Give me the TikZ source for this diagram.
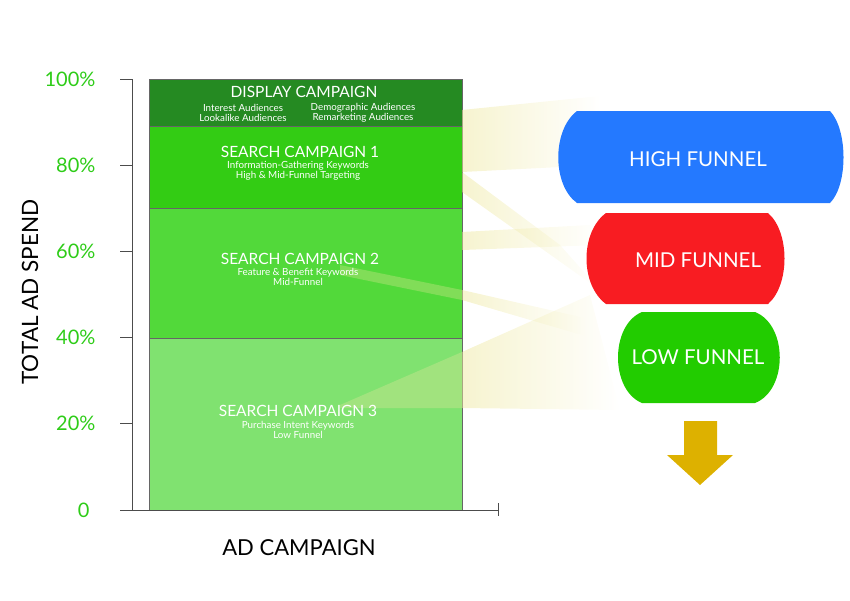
\documentclass[tikz,border=0pt]{standalone}
\usepackage{fontspec}
\setmainfont{Lato}
\usetikzlibrary{fadings}
\definecolor{gD}{HTML}{258A22}
\definecolor{g1}{HTML}{33CC14}
\definecolor{g2}{HTML}{52D93A}
\definecolor{g3}{HTML}{80E270}
\definecolor{gl}{HTML}{2ECC18}
\definecolor{hb}{HTML}{2479FF}
\definecolor{mr}{HTML}{F81C22}
\definecolor{lg}{HTML}{22CC00}
\definecolor{ar}{HTML}{DDB100}
\definecolor{beam}{HTML}{EEE8A0}
\tikzset{
 bar/.style={draw=black!60,line width=0.6pt},
 pct/.style={text=gl,font=\fontsize{20}{20}\selectfont,anchor=east},
 ttl/.style={text=white,font=\fontsize{15.5}{15.5}\selectfont},
 sub/.style={text=white,font=\fontsize{9.8}{10}\selectfont,align=center},
 fun/.style={text=white,font=\fontsize{20.5}{20.5}\selectfont},
 bm/.style={fill=beam,fill opacity=0.5,path fading=east},
 bmw/.style={fill=beam,fill opacity=0.3},
}
\begin{document}
\begin{tikzpicture}[x=1pt,y=-1pt]
\useasboundingbox (0,0) rectangle (850,600);
% bars
\fill[g3] (149,338) rectangle (462,510);
\fill[g2] (149,208) rectangle (462,338);
\fill[g1] (149,126) rectangle (462,208);
\fill[gD] (149,79) rectangle (462,126);
% beams over bars
\fill[bmw] (340,265) -- (462,290) -- (462,300) -- (340,275) -- cycle;
\fill[bmw] (340,405) -- (462,352) -- (462,408) -- (340,408) -- cycle;
\draw[bar] (149,79) rectangle (462,510);
\draw[bar] (149,126) -- (462,126) (149,208) -- (462,208) (149,338) -- (462,338);
% beams
\fill[bm] (462,110) -- (600,96) -- (600,165) -- (462,172) -- cycle;
\fill[bm] (462,172) -- (560,245) -- (600,290) -- (462,192) -- cycle;
\fill[bm] (462,290) -- (585,318) -- (585,336) -- (462,300) -- cycle;
\fill[bm] (462,352) -- (590,295) -- (620,410) -- (462,408) -- cycle;
\fill[bm] (462,232) -- (590,225) -- (600,245) -- (462,250) -- cycle;
% axes
\draw[black!70,line width=0.8pt] (132,79) -- (132,510) -- (498,510);
\foreach \y in {79,165.2,251.4,337.6,423.8,510} \draw[black!70,line width=0.8pt] (120,\y) -- (132,\y);
\draw[black!70,line width=0.8pt] (498,503) -- (498,516);
\node[pct] (p100) at (99,79) {100\%};
\node[pct] (p80) at (99,165.2) {80\%};
\node[pct] (p60) at (99,251.4) {60\%};
\node[pct] (p40) at (99,337.6) {40\%};
\node[pct] (p20) at (99,423.8) {20\%};
\node[pct] (p0) at (93,510) {0};
\node[rotate=90,font=\fontsize{22.5}{22.5}\selectfont] (ylab) at (30,292) {TOTAL AD SPEND};
\node[font=\fontsize{22}{22}\selectfont] (xlab) at (299,548) {AD CAMPAIGN};
% bar texts
\node[ttl] (dc) at (304,92) {DISPLAY CAMPAIGN};
\node[sub] (d1) at (243,113) {Interest Audiences\\Lookalike Audiences};
\node[sub] (d2) at (363,113) {Demographic Audiences\\Remarketing Audiences};
\node[ttl] (s1) at (300,152) {SEARCH CAMPAIGN 1};
\node[sub] (s1s) at (298,171) {Information-Gathering Keywords\\High \& Mid-Funnel Targeting};
\node[ttl] (s2) at (300,259) {SEARCH CAMPAIGN 2};
\node[sub] (s2s) at (298,277) {Feature \& Benefit Keywords\\Mid-Funnel};
\node[ttl] (s3) at (298,411) {SEARCH CAMPAIGN 3};
\node[sub] (s3s) at (298,430) {Purchase Intent Keywords\\Low Funnel};
% funnels
\fill[hb] (577,111) -- (830,111) .. controls (848,130) and (848,185) .. (830,203) -- (577,203) .. controls (552,185) and (552,130) .. (577,111) -- cycle;
\node[fun] (hf) at (698,159) {HIGH FUNNEL};
\fill[mr] (606,213) -- (768,213) .. controls (790,232) and (790,285) .. (768,304) -- (606,304) .. controls (580,285) and (580,232) .. (606,213) -- cycle;
\node[fun] (mf) at (698,260) {MID FUNNEL};
\fill[lg] (642,312) -- (755,312) .. controls (788,325) and (788,390) .. (755,403) -- (642,403) .. controls (610,390) and (610,325) .. (642,312) -- cycle;
\node[fun] (lf) at (698,357) {LOW FUNNEL};
% arrow
\fill[ar] (684,421) -- (717,421) -- (717,455) -- (733,455) -- (700,485) -- (667,455) -- (684,455) -- cycle;
\end{tikzpicture}
\end{document}
